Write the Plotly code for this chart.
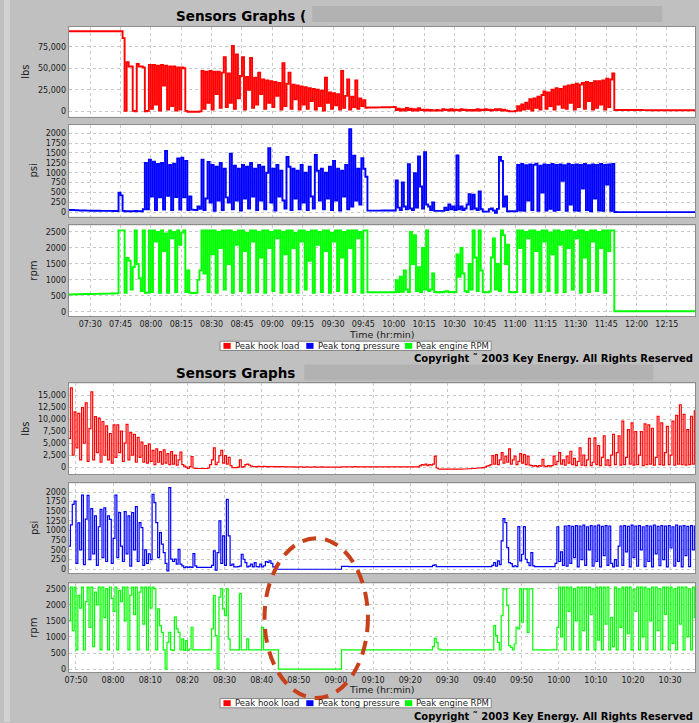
import plotly.graph_objects as go
import pandas as pd

W, H = 699, 723

# ---------------- DATA ----------------
SERIES_NAMES = ["Peak hook load", "Peak tong pressure", "Peak engine RPM"]
AXIS_UNITS = ["lbs", "psi", "rpm"]

# Panel 1: one sample per minute starting 07:19 (hook load in thousands of lbs)
P1_START = "2003-01-01 07:19:00"
P1_STEP_MIN = 1.0
P1_HOOK_KLBS = [
    93,
    93, 93, 93, 93, 93, 93, 93, 93, 93, 93,
    93, 93, 93, 93, 93, 93, 93, 93, 93, 93,
    93, 93, 93, 93, 93, 93, 85, 0.5, 57, 52,
    52, 0.5, 0, 55, 52, 52, 51, 0, 0.5, 54,
    3, 54, 8, 53, 1, 54, 30, 53, 2, 52,
    6, 52, 1, 51, 2, 51, 50, 0.5, -0.5, -0.5,
    -0.5, -0.5, -0.5, -0.5, 0, 47, 3, 46, 10, 47,
    2, 46, 20, 46, 4, 45, 63, 5, 44, 10,
    76, 3, 66, 15, 41, 63, 2, 40, 25, 62,
    4, 39, 8, 45, 20, 37, 3, 36, 10, 35,
    5, 34, 18, 33, 2, 56, 6, 32, 45, 3,
    31, 14, 30, 2, 29, 8, 28, 3, 27, 12,
    26, 2, 25, 6, 24, 1, 39, 10, 22, 3,
    21, 7, 20, 2, 47, 4, 18, 37, 2, 17,
    5, 36, 3, 15, 6, 13, 4, 4.5, 4.5, 4.5,
    4.5, 4.5, 4.6, 4.6, 4.7, 4.7, 4.8, 4.8, 4.9, 4.9,
    5, 1.5, 3, 1, 2.5, 1, 4, 1.5, 3, 1,
    2.5, 1, 3.5, 1.5, 2, 1, 2, 1, 1.5, 1,
    1, 1.5, 1, 1, 2.5, 1.5, 2, 1, 2.5, 1,
    2, 1.5, 1, 2.5, 1.5, 2, 1, 1.5, 1, 1.5,
    1, 2.5, 1, 2, 1.5, 2.5, 1.5, 2, 1, 1.5,
    2.5, 1.5, 2.5, 1, 2, 1, 0.5, 0, 0, 0,
    0.5, 6, 1, 8, 2, 10, 3, 14, 1, 15,
    4, 17, 2, 19, 23, 3, 22, 6, 25, 2,
    27, 8, 26, 4, 29, 3, 30, 10, 31, 2,
    32, 5, 31, 33, 3, 34, 12, 33, 2, 35,
    4, 35, 8, 36, 2, 38, 5, 37, 44, 1.5,
    1.5, 1.5, 1.5, 1.5, 1.5, 1.5, 1.5, 1.5, 1.5, 1.5,
    1.5, 1.5, 1.5, 1.4, 1.4, 1.4, 1.3, 1.3, 1.3, 1.3,
    1.2, 1.2, 1.2, 1.2, 1.2, 1.2, 1.2, 1.2, 1.2, 1.2,
    1.2, 1.2, 1.2, 1.2, 1.2, 1.2, 1.2, 1.2, 1.2, 1.2,
]
P1_TONG_PSI = [
    65,
    62, 60, 58, 55, 52, 50, 48, 47, 45, 45,
    44, 43, 42, 42, 41, 40, 40, 40, 39, 38,
    38, 37, 36, 36, 500, 430, 40, 30, 30, 30,
    30, 30, 35, 30, 30, 30, 80, 1250, 80, 1330,
    400, 1280, 60, 1220, 380, 1250, 70, 1550, 420, 1200,
    60, 1230, 390, 1360, 70, 1380, 380, 1300, 60, 400,
    70, 65, 60, 150, 90, 1330, 60, 350, 1270, 250,
    1200, 40, 1150, 300, 1250, 60, 1100, 380, 250, 1480,
    80, 1180, 300, 1100, 50, 1200, 350, 1150, 100, 1250,
    400, 1100, 60, 1200, 300, 1150, 80, 1000, 1620, 250,
    1100, 50, 1200, 400, 1050, 300, 100, 1400, 1150, 60,
    1100, 350, 1050, 80, 1200, 250, 1000, 60, 1150, 400,
    100, 1450, 1050, 300, 1100, 80, 1000, 350, 1150, 60,
    1300, 300, 1100, 50, 1050, 400, 1200, 80, 2100, 150,
    1430, 300, 1100, 200, 1370, 1100, 900, 45, 45, 45,
    45, 45, 46, 46, 47, 47, 48, 48, 48, 48,
    48, 806, 120, 60, 756, 150, 80, 1218, 100, 60,
    990, 120, 1411, 655, 100, 1520, 200, 150, 60, 250,
    40, 40, 40, 40, 40, 120, 60, 200, 80, 150,
    60, 1436, 80, 150, 60, 100, 200, 462, 80, 445,
    100, 60, 530, 80, 20, 20, 20, 80, 100, 50,
    -10, 90, 1400, 1300, 150, 400, 30, 30, 30, 30,
    30, 1200, 50, 1220, 40, 1190, 300, 1210, 60, 1200,
    1230, 40, 1180, 500, 1210, 50, 1200, 90, 1220, 40,
    1200, 60, 1210, 800, 1190, 40, 1220, 200, 1200, 50,
    1210, 40, 1200, 600, 1220, 60, 1190, 30, 1210, 350,
    1200, 50, 1220, 40, 1200, 700, 1210, 40, 1220, 10,
    8, 8, 8, 8, 8, 8, 8, 8, 8, 8,
    8, 8, 8, 8, 8, 8, 8, 8, 8, 8,
    8, 8, 8, 8, 8, 8, 8, 8, 8, 8,
    8, 8, 8, 8, 8, 8, 8, 8, 8, 8,
]
P1_ENGINE_RPM = [
    545,
    545, 548, 550, 550, 552, 555, 555, 558, 560, 560,
    560, 562, 563, 565, 565, 567, 568, 570, 570, 572,
    573, 575, 578, 580, 2550, 2550, 2550, 600, 1690, 1600,
    700, 1400, 2550, 1500, 1050, 650, 2550, 600, 600, 2550,
    620, 2550, 2200, 2500, 600, 2550, 1900, 2450, 600, 2550,
    2300, 2500, 620, 2550, 2100, 2480, 2550, 620, 1300, 600,
    590, 590, 600, 1000, 1300, 2550, 1200, 2550, 620, 2550,
    1800, 2550, 600, 2500, 2000, 2550, 700, 2550, 1500, 2550,
    600, 2500, 2100, 2550, 650, 2550, 1900, 2480, 600, 2550,
    2200, 2550, 620, 2500, 1700, 2550, 600, 2550, 2000, 2500,
    650, 2550, 2300, 2550, 600, 2500, 1800, 2550, 620, 2550,
    2000, 2480, 600, 2550, 2200, 2550, 700, 2500, 1600, 2550,
    600, 2550, 2100, 2500, 620, 2550, 1900, 2550, 600, 2480,
    2200, 2550, 650, 2550, 1700, 2500, 600, 2550, 2000, 2550,
    620, 2550, 2300, 2500, 600, 2550, 2550, 615, 615, 615,
    615, 615, 615, 615, 615, 615, 615, 615, 615, 615,
    615, 990, 620, 1100, 630, 1300, 700, 620, 2500, 1500,
    2400, 650, 1400, 620, 2000, 700, 2550, 650, 700, 1200,
    620, 615, 615, 620, 615, 640, 650, 615, 620, 615,
    620, 1800, 1100, 2000, 1200, 650, 620, 1500, 700, 2550,
    1700, 650, 2550, 1300, 620, 615, 615, 640, 1700, 2300,
    700, 1500, 650, 2550, 2400, 1500, 2100, 620, 615, 615,
    620, 2550, 2000, 2550, 620, 2500, 2300, 2550, 600, 2550,
    1900, 2500, 620, 2550, 2200, 2550, 650, 2480, 1800, 2550,
    600, 2550, 2100, 2500, 620, 2550, 2000, 2550, 700, 2500,
    2300, 2550, 600, 2550, 1700, 2500, 620, 2550, 2200, 2550,
    650, 2500, 2000, 2550, 600, 2550, 1900, 2550, 2550, 20,
    20, 20, 20, 20, 20, 20, 20, 20, 20, 20,
    20, 20, 20, 20, 20, 20, 20, 20, 20, 20,
    20, 20, 20, 20, 20, 20, 20, 20, 20, 20,
    20, 20, 20, 20, 20, 20, 20, 20, 20, 20,
]

# Panel 2: one sample every half minute starting 07:48 (hook load in thousands of lbs)
P2_START = "2003-01-01 07:48:00"
P2_STEP_MIN = 0.5
P2_HOOK_KLBS = [
    6, 16.5, 2.5, 11.5, 4, 11.2, 1.5, 12.4, 5, 13.4,
    1.2, 8, 15.7, 1.5, 10.5, 3, 10.2, 1, 9.5, 2.5,
    8.6, 1.5, 7, 0.8, 8.8, 2, 8.8, 3, 7.5, 1.2,
    5, 8.9, 1.5, 7.2, 2.5, 6.8, 1, 6.2, 2, 5.2,
    1, 4.5, 0.8, 4.8, 1.2, 3.5, 0.5, 3.8, 1, 3.2,
    0.6, 3.6, 0.8, 2.8, 0.5, 3.2, 0.6, 2.5, 0.4, 1.5,
    3.1, 0.5, 0.2, 0, -0.3, 0.1, 2.2, -0.2, -0.3, -0.3,
    -0.3, -0.3, -0.3, -0.3, -0.3, -0.2, 0.5, 1.5, 4, 0.5,
    1, 2.4, 3.5, 0.8, 2.4, 0.6, 2, 0.3, -0.1, -0.1,
    -0.1, 0, 1.5, 0, 0.1, 0.5, 0.6, 0.4, 0.2, 0.1,
    0.1, 0.05, 0.15, 0.1, 0.1, 0.15, 0.1, 0.05, 0.1, 0.1,
    0.1, 0.1, 0.05, 0.1, 0.1, 0.1, 0.05, 0.05, 0.05, 0.05,
    0.05, 0.05, 0, 0, 0.05, 0.05, 0, 0, 0.05, 0,
    0, 0, 0.05, 0, 0, 0, 0.05, 0, 0, 0,
    0, 0, 0, 0, 0, 0, 0, 0.05, 0.05, 0.05,
    0.05, 0.05, 0.05, 0.05, 0.1, 0.05, 0.05, 0.05, 0.05, 0.05,
    0.05, 0.05, 0.05, 0.05, 0.05, 0.05, 0.05, 0.05, 0.05, 0.05,
    0.05, 0.05, 0.05, 0.05, 0.05, 0.05, 0.05, 0.05, 0.05, 0.05,
    0.05, 0.05, 0.05, 0.05, 0.05, 0.05, 0.05, 0.05, 0.05, 0.3,
    0.5, 0.4, 0.6, 0.3, 0.5, 0.4, 0.6, 2.3, -0.2, -0.4,
    -0.45, -0.45, -0.45, -0.45, -0.45, -0.45, -0.45, -0.45, -0.45, -0.45,
    -0.45, -0.45, -0.4, -0.4, -0.4, -0.35, -0.35, -0.3, -0.3, -0.25,
    -0.2, -0.2, -0.15, -0.1, 0, 0.2, 0.3, 0.5, 2.4, 0.6,
    2.6, 0.5, 1.5, 3, 0.8, 2.3, 1, 3.8, 0.6, 1.5,
    2.3, 0.5, 1.2, 2.8, 0.8, 2.6, 0.5, 2.3, 0.4, 0.3,
    0.2, 0.3, 0.1, 0.3, 0.2, 1.6, 0.2, 0.1, 0.3, 0.2,
    0.3, 2.3, 0.5, 1.2, 3, 0.6, 1.5, 0.4, 2.3, 0.8,
    3.3, 0.5, 1.8, 0.3, 1.2, 4, 0.4, 2.5, 0.3, 1.5,
    6, 0.3, 1, 6.1, 0.5, 4.5, 0.3, 2, 6.5, 0.4,
    1.5, 0.3, 2.5, 6.8, 0.5, 3, 6.5, 0.4, 9.6, 0.5,
    2, 7.8, 0.6, 9.2, 0.4, 7.4, 0.5, 2.5, 7.4, 0.3,
    9, 0.5, 8.8, 0.6, 8.1, 0.4, 2, 10.6, 0.5, 9.2,
    0.4, 3, 8.5, 0.5, 2.5, 9.6, 0.4, 10.8, 0.6, 13,
    0.5, 11, 0.4, 7.8, 0.5, 10.6, 0.6, 11.7, 1,
]
P2_TONG_PSI = [
    600, 1150, 1680, 1767, 150, 1200, 500, 1922, 120, 1300,
    1914, 250, 1569, 400, 1380, 100, 1100, 1550, 300, 1590,
    200, 1380, 1290, 150, 800, 1922, 300, 1466, 600, 200,
    1490, 400, 1380, 80, 1466, 500, 1620, 200, 1207, 1078,
    100, 500, 150, 400, 250, 1940, 1724, 1207, 300, 948,
    650, 431, 150, -43, 2112, 260, 200, 260, 130, 517,
    130, 86, 43, 60, 50, 60, 50, 405, 86, 50,
    50, 50, 50, 50, 50, 50, 50, 100, 474, -25,
    431, 1250, 150, 862, 100, 1810, 862, 100, 130, 60,
    60, 70, 80, 388, 259, 172, 60, 80, 130, 60,
    172, 70, 60, 130, 60, 90, 200, 180, 220, 150,
    60, 0, 0, 0, 0, 0, 0, 0, 0, 0,
    0, 0, 0, 0, 0, 0, 0, 0, 0, 0,
    0, 0, 0, 0, 0, 0, 0, 0, 0, 0,
    0, 0, 0, 0, 0, 0, 0, 75, 75, 75,
    72, 70, 70, 70, 70, 70, 70, 70, 70, 70,
    70, 70, 69, 69, 69, 69, 69, 69, 69, 69,
    68, 68, 68, 68, 68, 68, 68, 68, 68, 68,
    68, 68, 68, 68, 68, 68, 68, 68, 68, 68,
    68, 68, 68, 68, 68, 70, 100, 112, 68, 65,
    65, 65, 65, 65, 65, 65, 65, 65, 65, 65,
    65, 65, 65, 65, 65, 65, 65, 65, 65, 65,
    65, 65, 65, 65, 65, 65, 65, 70, 100, 172,
    80, 215, 120, 733, 1310, 1207, 560, 172, 147, 70,
    90, 70, 1103, 215, 388, 1103, 259, 172, 90, 431,
    86, 70, 65, 65, 65, 65, 65, 65, 65, 65,
    65, 65, 150, 1100, 200, 450, 100, 1120, 80, 1130,
    150, 1110, 300, 1130, 60, 1120, 250, 1140, 100, 1100,
    500, 1130, 80, 1120, 200, 1140, 60, 1110, 350, 1130,
    100, 1120, 150, 60, 250, 80, 600, 1120, 100, 1130,
    450, 1110, 60, 1140, 300, 1120, 80, 1130, 500, 1100,
    70, 1130, 200, 1120, 60, 1140, 400, 1110, 90, 1130,
    250, 1120, 60, 1130, 550, 1100, 80, 1140, 200, 1120,
    60, 1130, 350, 1110, 70, 1130, 500, 1120, 100,
]
P2_ENGINE_RPM = [
    1500, 2550, 1200, 2550, 600, 2300, 1900, 2550, 600, 2100,
    2550, 1300, 2550, 700, 2400, 2000, 2550, 600, 2550, 1600,
    2500, 600, 2550, 2200, 1800, 2550, 600, 2450, 2100, 2550,
    1500, 2550, 600, 2300, 2550, 1700, 2550, 600, 2400, 2550,
    1400, 2550, 600, 2550, 1900, 2550, 2500, 600, 1875, 1354,
    1146, 600, 0, 833, 1146, 600, 580, 1615, 1250, 1146,
    600, 938, 580, 885, 580, 625, 1302, 600, 600, 600,
    600, 600, 600, 600, 600, 600, 600, 1250, 2292, 1042,
    0, 2240, 2500, 1875, 1667, 2500, 938, 600, 600, 600,
    600, 600, 2350, 600, 600, 600, 938, 600, 600, 600,
    600, 600, 600, 600, 1300, 600, 600, 600, 600, 600,
    600, 600, 600, 0, 0, 0, 0, 0, 0, 0,
    0, 0, 0, 0, 0, 0, 0, 0, 0, 0,
    0, 0, 0, 0, 0, 0, 0, 0, 0, 0,
    0, 0, 0, 0, 0, 0, 0, 600, 600, 600,
    600, 600, 600, 600, 600, 600, 600, 600, 600, 600,
    600, 600, 600, 600, 600, 600, 600, 600, 600, 600,
    600, 600, 600, 600, 600, 600, 600, 600, 600, 600,
    600, 600, 600, 600, 600, 600, 600, 600, 600, 600,
    600, 600, 600, 600, 600, 600, 700, 958, 833, 625,
    600, 600, 600, 600, 600, 600, 600, 600, 600, 600,
    600, 600, 600, 600, 600, 600, 600, 600, 600, 600,
    600, 600, 600, 600, 600, 600, 600, 600, 600, 1354,
    1042, 833, 600, 1667, 2500, 2500, 1979, 729, 677, 600,
    781, 1302, 1250, 2500, 1458, 2500, 2500, 1146, 2500, 2500,
    600, 600, 600, 600, 600, 600, 600, 600, 600, 600,
    600, 600, 600, 1300, 2550, 1000, 2550, 600, 2550, 1800,
    2550, 600, 2500, 1500, 2550, 600, 2550, 1200, 2550, 600,
    2550, 1700, 2500, 600, 2550, 900, 2550, 600, 2550, 1400,
    2550, 600, 1600, 700, 2550, 600, 2500, 1300, 2550, 600,
    2550, 1100, 2550, 600, 2480, 1800, 2550, 600, 2550, 1000,
    2550, 600, 2500, 1500, 2550, 600, 2550, 1200, 2500, 600,
    2550, 1700, 2550, 600, 2550, 800, 2500, 600, 2550, 1400,
    2550, 600, 2550, 1000, 2500, 600, 2550, 1600, 2550,
]

# Axis settings
P1_XRANGE = ["2003-01-01 07:19:20", "2003-01-01 12:28:54"]
P2_XRANGE = ["2003-01-01 07:48:01", "2003-01-01 10:36:42"]
P1_TICK0, P1_DTICK_MIN = "2003-01-01 07:30:00", 15
P2_TICK0, P2_DTICK_MIN = "2003-01-01 07:50:00", 10
P1_YRANGES = [[-6400, 98000], [-108, 2209], [-137, 2706]]
P2_YRANGES = [[-1520, 17437], [-103, 2225], [-103, 2666]]
P1_YDTICKS = [25000, 250, 500]
P2_YDTICKS = [2500, 250, 500]

# ---------------- STYLE ----------------
BG = "#c0c0c0"
EDGE = "#d2d2d2"
BOX = "#b2b2b2"
GRID = "#c8c8c8"
FRAME = "#8c8c8c"
TXT = "#1a1a1a"
COLORS = ["#ff0000", "#0000ff", "#00ff00"]
FONT = "DejaVu Sans"

def px(x):
    return x / W

def py(y):
    return 1 - y / H

XDOM = [px(65), px(695)]
P1_YPX = [(27, 117), (125, 217), (225.7, 316.7)]
P2_YPX = [(384, 475), (484, 574), (584.3, 673.3)]

def times(start, step_min, n):
    return pd.date_range(start=start, periods=n, freq=pd.Timedelta(minutes=step_min))

fig = go.Figure()
layout = dict(
    width=W, height=H, margin=dict(l=0, r=0, t=0, b=0, pad=0),
    paper_bgcolor=BG, plot_bgcolor="white", showlegend=False,
    font=dict(family=FONT, size=8, color=TXT),
)

panels = [
    dict(start=P1_START, step=P1_STEP_MIN, data=[P1_HOOK_KLBS, P1_TONG_PSI, P1_ENGINE_RPM],
         xr=P1_XRANGE, tick0=P1_TICK0, dtick=P1_DTICK_MIN, yr=P1_YRANGES, ydt=P1_YDTICKS,
         ypx=P1_YPX, lw=1.9),
    dict(start=P2_START, step=P2_STEP_MIN, data=[P2_HOOK_KLBS, P2_TONG_PSI, P2_ENGINE_RPM],
         xr=P2_XRANGE, tick0=P2_TICK0, dtick=P2_DTICK_MIN, yr=P2_YRANGES, ydt=P2_YDTICKS,
         ypx=P2_YPX, lw=1.2),
]

k = 0
for p in panels:
    for s in range(3):
        k += 1
        vals = p["data"][s]
        if s == 0:
            vals = [v * 1000 for v in vals]
        t = times(p["start"], p["step"], len(vals))
        xs = "x" if k == 1 else f"x{k}"
        ys = "y" if k == 1 else f"y{k}"
        fig.add_trace(go.Scatter(x=t, y=vals, mode="lines", name=SERIES_NAMES[s],
                                 line=dict(color=COLORS[s], width=p["lw"], shape="hv", simplify=False),
                                 xaxis=xs, yaxis=ys, hoverinfo="skip"))
        top, bot = p["ypx"][s]
        layout["xaxis" if k == 1 else f"xaxis{k}"] = dict(
            domain=XDOM, anchor=ys, type="date", range=p["xr"],
            tick0=p["tick0"], dtick=p["dtick"] * 60000, tickformat="%H:%M",
            showgrid=True, gridcolor=GRID, griddash="dot", gridwidth=1,
            showline=True, mirror=True, linecolor=FRAME, linewidth=1,
            zeroline=False, ticks="", showticklabels=(s == 2),
            tickfont=dict(family=FONT, size=8, color=TXT),
        )
        layout["yaxis" if k == 1 else f"yaxis{k}"] = dict(
            domain=[py(bot), py(top)], anchor=xs, range=p["yr"][s],
            tick0=0, dtick=p["ydt"][s], tickformat=(",d" if s == 0 else "d"),
            showgrid=True, gridcolor=GRID, griddash="dot", gridwidth=1,
            showline=True, mirror=True, linecolor=FRAME, linewidth=1,
            zeroline=False, ticks="",
            tickfont=dict(family=FONT, size=8, color=TXT),
        )

fig.update_layout(**layout)

shapes = []
ann = []

# lighter strip along the left edge of the page
shapes.append(dict(type="rect", xref="paper", yref="paper", x0=0, x1=px(6), y0=0, y1=1,
                   fillcolor=EDGE, line=dict(width=0), layer="below"))

# Titles with redaction boxes
for box in [(310, 6, 662, 22), (302, 365, 653, 381)]:
    shapes.append(dict(type="rect", xref="paper", yref="paper", x0=px(box[0]), x1=px(box[2]),
                       y0=py(box[3]), y1=py(box[1]), fillcolor=BOX, line=dict(width=0)))
for ttxt, ty in [("<b>Sensors Graphs (</b>", 16.0), ("<b>Sensors Graphs</b>", 373.5)]:
    ann.append(dict(text=ttxt, x=px(171), y=py(ty), xref="paper", yref="paper",
                    xanchor="left", yanchor="middle", showarrow=False,
                    font=dict(family=FONT, size=13.5, color="#000")))

# Y axis titles
for p in panels:
    for s in range(3):
        top, bot = p["ypx"][s]
        xpos = 22 if s == 0 else 30
        ann.append(dict(text=AXIS_UNITS[s], x=px(xpos), y=py((top + bot) / 2), xref="paper", yref="paper",
                        xanchor="center", yanchor="middle", textangle=-90, showarrow=False,
                        font=dict(family=FONT, size=10, color=TXT)))

# X titles, legends, copyright
for (xt_y, leg_top, copy_y) in [(334.5, 341.7, 359.3), (690.5, 699.5, 717.3)]:
    ann.append(dict(text="Time (hr:min)", x=px(380), y=py(xt_y), xref="paper", yref="paper",
                    xanchor="center", yanchor="middle", showarrow=False,
                    font=dict(family=FONT, size=9.5, color=TXT)))
    shapes.append(dict(type="rect", xref="paper", yref="paper", x0=px(217.3), x1=px(490),
                       y0=py(leg_top + 9.3), y1=py(leg_top), fillcolor="white",
                       line=dict(color="#888888", width=1)))
    for s, (sx, tx) in enumerate([(220.7, 230.5), (304, 313.5), (403.3, 412.7)]):
        shapes.append(dict(type="rect", xref="paper", yref="paper", x0=px(sx), x1=px(sx + 7.3),
                           y0=py(leg_top + 7.6), y1=py(leg_top + 1.7), fillcolor=COLORS[s],
                           line=dict(width=0)))
        ann.append(dict(text=SERIES_NAMES[s], x=px(tx), y=py(leg_top + 4.8), xref="paper", yref="paper",
                        xanchor="left", yanchor="middle", showarrow=False,
                        font=dict(family=FONT, size=8.5, color=TXT)))
    ann.append(dict(text="<b>Copyright \u02dc 2003 Key Energy. All Rights Reserved</b>",
                    x=px(695), y=py(copy_y), xref="paper", yref="paper",
                    xanchor="right", yanchor="middle", showarrow=False,
                    font=dict(family=FONT, size=10, color="#000")))

# Red dashed ellipse highlighting the idle period
shapes.append(dict(type="circle", xref="paper", yref="paper", x0=px(262), x1=px(366),
                   y0=py(699), y1=py(539), layer="above",
                   line=dict(color="#c8401a", width=4, dash="14px,9px")))

fig.update_layout(shapes=shapes, annotations=ann)
fig.write_html("out.html")
